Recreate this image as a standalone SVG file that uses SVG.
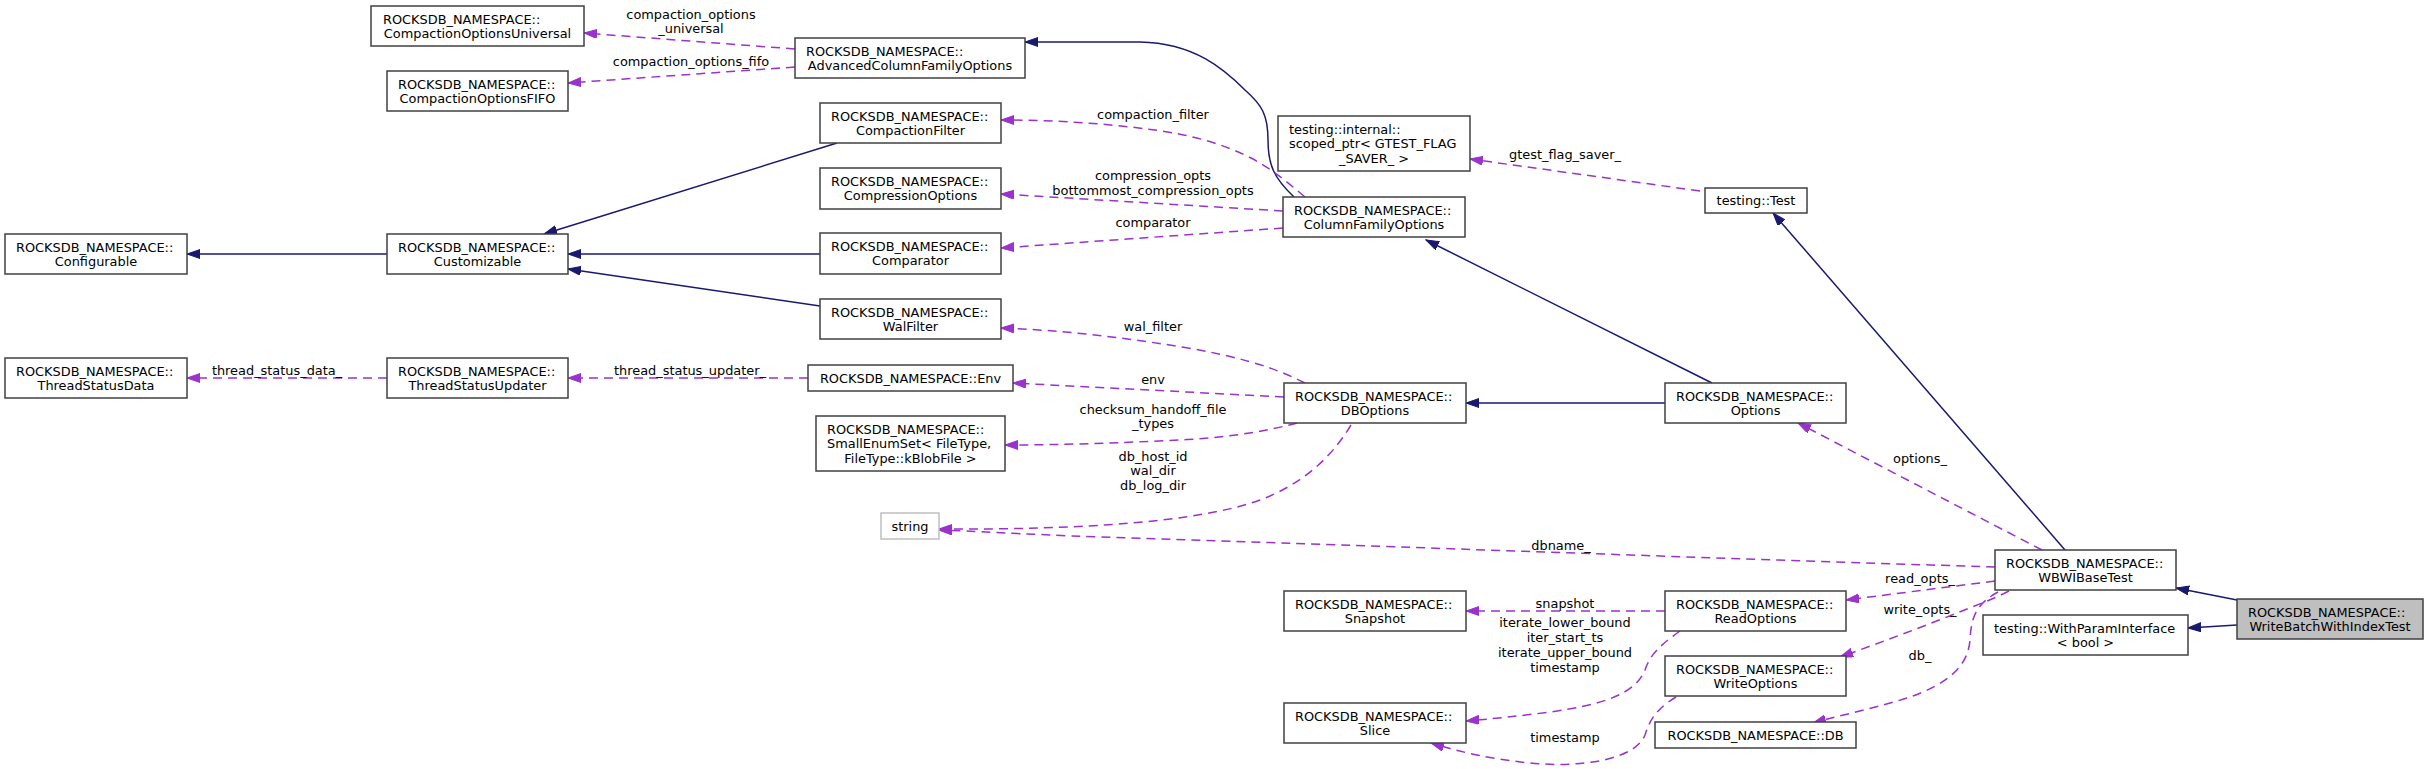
<svg xmlns="http://www.w3.org/2000/svg" width="2429" height="769" viewBox="0 0 2429 769">
<style>
text{font-family:"DejaVu Sans","Liberation Sans",sans-serif;font-size:12.9px;fill:#000}
.m{text-anchor:middle}
.n rect{fill:#fff;stroke:#404040;stroke-width:1.5}
.n.g rect{stroke:#bfbfbf}
.n.h rect{fill:#bfbfbf}
.i{fill:none;stroke:#191970;stroke-width:1.5;marker-end:url(#ai)}
.u{fill:none;stroke:#9a32cd;stroke-width:1.5;stroke-dasharray:9,6;marker-end:url(#au)}
</style>
<defs>
<marker id="ai" markerUnits="userSpaceOnUse" markerWidth="14" markerHeight="10" refX="13" refY="4.5" orient="auto"><path d="M0,0 L13,4.5 L0,9 z" fill="#191970" stroke="#191970"/></marker>
<marker id="au" markerUnits="userSpaceOnUse" markerWidth="14" markerHeight="10" refX="13" refY="4.5" orient="auto"><path d="M0,0 L13,4.5 L0,9 z" fill="#9a32cd" stroke="#9a32cd"/></marker>
</defs>
<rect width="2429" height="769" fill="#fff"/>
<g id="edges">
<path class="i" d="M387,254 L187,254"/>
<path class="i" d="M837,143 L544,234"/>
<path class="i" d="M820,254 L568,254"/>
<path class="i" d="M820,306 L568,269"/>
<path class="i" d="M1294,197 C1274,178 1268,165 1268,140 C1268,115 1262,105 1245,90 C1225,70 1195,43 1140,42 C1100,42 1060,42 1025,42"/>
<path class="i" d="M1712,383 L1426,240"/>
<path class="i" d="M1665,403 L1466,403"/>
<path class="i" d="M2065,550 L1773,213"/>
<path class="i" d="M2237,600 L2176,588"/>
<path class="i" d="M2237,625 L2188,628"/>
<path class="u" d="M795,49 L584,33"/>
<path class="u" d="M795,67 L568,83"/>
<path class="u" d="M1305,197 C1285,180 1270,168 1251,158 C1215,140 1180,133 1147,129 C1100,123 1050,120 1001,120"/>
<path class="u" d="M1283,211 L1001,194"/>
<path class="u" d="M1283,228 L1001,248"/>
<path class="u" d="M1305,383 C1270,365 1230,355 1182,347 C1120,337 1060,330 1001,328"/>
<path class="u" d="M1284,397 L1013,383"/>
<path class="u" d="M1297,423 C1260,433 1220,438 1180,440 C1120,443 1060,445 1005,445"/>
<path class="u" d="M1351,425 C1330,460 1300,485 1260,500 C1200,522 1080,530 939,529"/>
<path class="u" d="M1995,567 C1700,558 1300,543 1100,537 C1020,534 970,531 939,530"/>
<path class="u" d="M2042,550 L1798,423"/>
<path class="u" d="M1995,581 L1846,600"/>
<path class="u" d="M2009,591 C1995,598 1985,602 1972,607 C1930,624 1885,641 1840,657"/>
<path class="u" d="M1998,592 C1978,603 1971,615 1970,640 C1968,665 1950,683 1910,697 C1880,707 1845,714 1813,723"/>
<path class="u" d="M1665,611 L1466,611"/>
<path class="u" d="M1680,631 C1660,645 1650,655 1645,670 C1635,695 1600,705 1550,712 C1520,716 1490,719 1466,721"/>
<path class="u" d="M1676,697 C1655,710 1650,720 1645,735 C1635,760 1580,768 1530,763 C1490,759 1460,752 1431,743"/>
<path class="u" d="M1700,191 L1470,159"/>
<path class="u" d="M387,378 L187,378"/>
<path class="u" d="M808,378 L568,378"/>
<g class="lbl">
<text class="m" x="691" y="18.5">compaction_options</text>
<text class="m" x="691" y="32.5">_universal</text>
<text class="m" x="691" y="65.5">compaction_options_fifo</text>
<text class="m" x="1153" y="118.5">compaction_filter</text>
<text class="m" x="1153" y="179.5">compression_opts</text>
<text class="m" x="1153" y="194.5">bottommost_compression_opts</text>
<text class="m" x="1153" y="226.5">comparator</text>
<text class="m" x="1153" y="330.5">wal_filter</text>
<text class="m" x="1153" y="383.5">env</text>
<text class="m" x="1153" y="413.5">checksum_handoff_file</text>
<text class="m" x="1153" y="427.5">_types</text>
<text class="m" x="1153" y="460.5">db_host_id</text>
<text class="m" x="1153" y="474.5">wal_dir</text>
<text class="m" x="1153" y="489.5">db_log_dir</text>
<text class="m" x="1565" y="158.5">gtest_flag_saver_</text>
<text class="m" x="1561" y="549.5">dbname_</text>
<text class="m" x="1920" y="462.5">options_</text>
<text class="m" x="1920" y="582.5">read_opts_</text>
<text class="m" x="1920" y="613.5">write_opts_</text>
<text class="m" x="1920" y="659.5">db_</text>
<text class="m" x="1565" y="607.5">snapshot</text>
<text class="m" x="1565" y="626.5">iterate_lower_bound</text>
<text class="m" x="1565" y="641.5">iter_start_ts</text>
<text class="m" x="1565" y="656.5">iterate_upper_bound</text>
<text class="m" x="1565" y="671.5">timestamp</text>
<text class="m" x="1565" y="741.5">timestamp</text>
<text class="m" x="277" y="374.5">thread_status_data_</text>
<text class="m" x="690" y="374.5">thread_status_updater_</text>
</g>
</g>
<g id="CompactionOptionsUniversal" class="n"><rect x="371" y="6" width="213" height="40"/><text x="383" y="23.5">ROCKSDB_NAMESPACE::</text><text class="m" x="477.5" y="38">CompactionOptionsUniversal</text></g>
<g id="CompactionOptionsFIFO" class="n"><rect x="387" y="71" width="181" height="40"/><text x="398" y="88.5">ROCKSDB_NAMESPACE::</text><text class="m" x="477.5" y="103">CompactionOptionsFIFO</text></g>
<g id="Configurable" class="n"><rect x="5" y="234" width="182" height="40"/><text x="16" y="251.5">ROCKSDB_NAMESPACE::</text><text class="m" x="96" y="266">Configurable</text></g>
<g id="Customizable" class="n"><rect x="387" y="234" width="181" height="40"/><text x="398" y="251.5">ROCKSDB_NAMESPACE::</text><text class="m" x="477.5" y="266">Customizable</text></g>
<g id="ThreadStatusData" class="n"><rect x="5" y="358" width="182" height="40"/><text x="16" y="375.5">ROCKSDB_NAMESPACE::</text><text class="m" x="96" y="390">ThreadStatusData</text></g>
<g id="ThreadStatusUpdater" class="n"><rect x="387" y="358" width="181" height="40"/><text x="398" y="375.5">ROCKSDB_NAMESPACE::</text><text class="m" x="477.5" y="390">ThreadStatusUpdater</text></g>
<g id="AdvancedColumnFamilyOptions" class="n"><rect x="795" y="38" width="230" height="40"/><text x="806" y="55.5">ROCKSDB_NAMESPACE::</text><text class="m" x="910" y="70">AdvancedColumnFamilyOptions</text></g>
<g id="CompactionFilter" class="n"><rect x="820" y="103" width="181" height="40"/><text x="831" y="120.5">ROCKSDB_NAMESPACE::</text><text class="m" x="910.5" y="135">CompactionFilter</text></g>
<g id="CompressionOptions" class="n"><rect x="820" y="168" width="181" height="41"/><text x="831" y="185.5">ROCKSDB_NAMESPACE::</text><text class="m" x="910.5" y="200">CompressionOptions</text></g>
<g id="Comparator" class="n"><rect x="820" y="233" width="181" height="41"/><text x="831" y="250.5">ROCKSDB_NAMESPACE::</text><text class="m" x="910.5" y="265">Comparator</text></g>
<g id="WalFilter" class="n"><rect x="820" y="299" width="181" height="40"/><text x="831" y="316.5">ROCKSDB_NAMESPACE::</text><text class="m" x="910.5" y="331">WalFilter</text></g>
<g id="Env" class="n"><rect x="808" y="365" width="205" height="26"/><text class="m" x="910.5" y="382.5">ROCKSDB_NAMESPACE::Env</text></g>
<g id="SmallEnumSet" class="n"><rect x="816" y="416" width="189" height="55"/><text x="827" y="433.5">ROCKSDB_NAMESPACE::</text><text x="827" y="448">SmallEnumSet&lt; FileType,</text><text class="m" x="910.5" y="462.5">FileType::kBlobFile &gt;</text></g>
<g id="string" class="n g"><rect x="881" y="513" width="58" height="26"/><text class="m" x="910" y="530.5">string</text></g>
<g id="scoped_ptr" class="n"><rect x="1278" y="116" width="192" height="55"/><text x="1289" y="133.5">testing::internal::</text><text x="1289" y="148">scoped_ptr&lt; GTEST_FLAG</text><text class="m" x="1374" y="162.5">_SAVER_ &gt;</text></g>
<g id="ColumnFamilyOptions" class="n"><rect x="1283" y="197" width="182" height="40"/><text x="1294" y="214.5">ROCKSDB_NAMESPACE::</text><text class="m" x="1374" y="229">ColumnFamilyOptions</text></g>
<g id="DBOptions" class="n"><rect x="1284" y="383" width="182" height="40"/><text x="1295" y="400.5">ROCKSDB_NAMESPACE::</text><text class="m" x="1375" y="415">DBOptions</text></g>
<g id="Snapshot" class="n"><rect x="1284" y="591" width="182" height="40"/><text x="1295" y="608.5">ROCKSDB_NAMESPACE::</text><text class="m" x="1375" y="623">Snapshot</text></g>
<g id="Slice" class="n"><rect x="1284" y="703" width="182" height="40"/><text x="1295" y="720.5">ROCKSDB_NAMESPACE::</text><text class="m" x="1375" y="735">Slice</text></g>
<g id="testing_Test" class="n"><rect x="1705" y="188" width="102" height="25"/><text class="m" x="1756" y="205">testing::Test</text></g>
<g id="Options" class="n"><rect x="1665" y="383" width="181" height="40"/><text x="1676" y="400.5">ROCKSDB_NAMESPACE::</text><text class="m" x="1755.5" y="415">Options</text></g>
<g id="ReadOptions" class="n"><rect x="1665" y="591" width="181" height="40"/><text x="1676" y="608.5">ROCKSDB_NAMESPACE::</text><text class="m" x="1755.5" y="623">ReadOptions</text></g>
<g id="WriteOptions" class="n"><rect x="1665" y="656" width="181" height="40"/><text x="1676" y="673.5">ROCKSDB_NAMESPACE::</text><text class="m" x="1755.5" y="688">WriteOptions</text></g>
<g id="DB" class="n"><rect x="1655" y="722" width="201" height="26"/><text class="m" x="1755.5" y="739.5">ROCKSDB_NAMESPACE::DB</text></g>
<g id="WBWIBaseTest" class="n"><rect x="1995" y="550" width="181" height="40"/><text x="2006" y="567.5">ROCKSDB_NAMESPACE::</text><text class="m" x="2085.5" y="582">WBWIBaseTest</text></g>
<g id="WithParamInterface" class="n"><rect x="1983" y="615" width="205" height="40"/><text x="1994" y="632.5">testing::WithParamInterface</text><text class="m" x="2085.5" y="647">&lt; bool &gt;</text></g>
<g id="WriteBatchWithIndexTest" class="n h"><rect x="2237" y="599" width="186" height="40"/><text x="2248" y="616.5">ROCKSDB_NAMESPACE::</text><text class="m" x="2330" y="631">WriteBatchWithIndexTest</text></g>
</svg>
